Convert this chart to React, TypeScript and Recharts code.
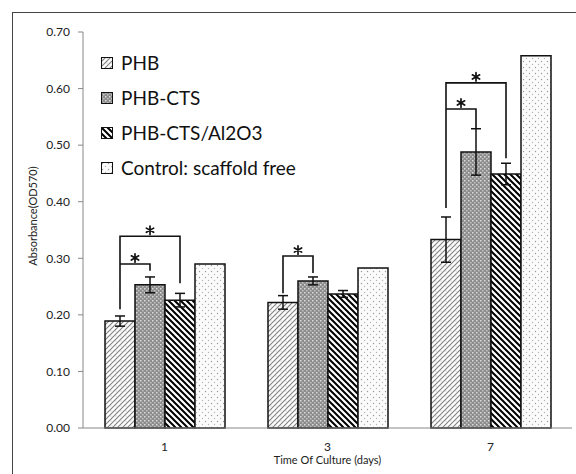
import React from "react";
import { BarChart, Bar, XAxis, YAxis, ErrorBar, LabelList, Legend } from "recharts";

const days = ["1", "3", "7"];
const phb = [0.189, 0.222, 0.333];
const phbErr = [0.009, 0.012, 0.04];
const phbCts = [0.253, 0.26, 0.488];
const phbCtsErr = [0.014, 0.007, 0.041];
const phbCtsAl = [0.226, 0.237, 0.449];
const phbCtsAlErr = [0.012, 0.006, 0.019];
const control = [0.29, 0.283, 0.658];
const yTicks = [0, 0.1, 0.2, 0.3, 0.4, 0.5, 0.6, 0.7];

// significance brackets: from PHB bar to bar number `to` in the same group
const brackets = [
  { day: "1", to: 2, top: 0.339, leftEnd: 0.21, rightEnd: 0.256 },
  { day: "1", to: 1, top: 0.29, leftEnd: 0.29, rightEnd: 0.278 },
  { day: "3", to: 1, top: 0.304, leftEnd: 0.238, rightEnd: 0.274 },
  { day: "7", to: 2, top: 0.61, leftEnd: 0.389, rightEnd: 0.477 },
  { day: "7", to: 1, top: 0.564, leftEnd: 0.564, rightEnd: 0.529 },
];

const series = [
  { key: "phb", name: "PHB", fill: "url(#pPhb)" },
  { key: "phbCts", name: "PHB-CTS", fill: "url(#pCts)" },
  { key: "phbCtsAl", name: "PHB-CTS/Al2O3", fill: "url(#pAl)" },
  { key: "control", name: "Control: scaffold free", fill: "url(#pCtrl)" },
];

const data = days.map((day, i) => ({
  day,
  phb: phb[i],
  phbErr: phbErr[i],
  phbCts: phbCts[i],
  phbCtsErr: phbCtsErr[i],
  phbCtsAl: phbCtsAl[i],
  phbCtsAlErr: phbCtsAlErr[i],
  control: control[i],
}));

const font = "Lato, 'Open Sans', sans-serif";

function Star({ cx, cy }: { cx: number; cy: number }) {
  const r = 4.2;
  const d = [90, 30, -30]
    .map((a) => {
      const dx = r * Math.cos((a * Math.PI) / 180);
      const dy = r * Math.sin((a * Math.PI) / 180);
      return `M${cx - dx},${cy - dy} L${cx + dx},${cy + dy}`;
    })
    .join(" ");
  return <path d={d} stroke="#111" strokeWidth={1.7} strokeLinecap="round" />;
}

function Brackets(props: any) {
  const vb = props.viewBox && props.viewBox.width != null ? props.viewBox : props;
  const { x, y, width, height } = vb;
  const i = days.indexOf(String(props.value));
  if (i < 0 || !height) return null;
  const base = y + height;
  const k = height / phb[i];
  const py = (v: number) => base - v * k;
  const left = x + width / 2;
  return (
    <g>
      {brackets
        .filter((b) => b.day === days[i])
        .map((b, j) => {
          const right = x + width * (b.to + 0.5);
          const top = py(b.top);
          return (
            <g key={j}>
              <polyline
                points={`${left},${py(b.leftEnd)} ${left},${top} ${right},${top} ${right},${py(b.rightEnd)}`}
                fill="none"
                stroke="#111"
                strokeWidth={1.6}
              />
              <Star cx={(left + right) / 2} cy={top - 6} />
            </g>
          );
        })}
    </g>
  );
}

function LegendBox() {
  return (
    <div style={{ fontFamily: font, fontSize: 19, color: "#111" }}>
      {series.map((s) => (
        <div key={s.key} style={{ display: "flex", alignItems: "center", height: 35 }}>
          <svg width={12} height={12} style={{ marginRight: 8 }}>
            <rect x={0.5} y={0.5} width={11} height={11} fill={s.fill} stroke="#111" strokeWidth={1} />
          </svg>
          <span>{s.name}</span>
        </div>
      ))}
    </div>
  );
}

export default function App() {
  return (
    <div
      style={{
        position: "absolute",
        left: 0,
        top: 0,
        width: 576,
        height: 474,
        overflow: "hidden",
        background: "#fff",
      }}
    >
      <div
        style={{
          position: "absolute",
          left: 12,
          top: 12,
          width: 620,
          height: 520,
          border: "1px solid #444",
        }}
      />
      <BarChart
        width={576}
        height={474}
        data={data}
        margin={{ top: 32, right: 4, bottom: 0, left: 23 }}
        barSize={30}
        barGap={0}
        style={{ position: "absolute", left: 0, top: 0 }}
      >
        <defs>
          <pattern id="pPhb" width="5" height="5" patternUnits="userSpaceOnUse">
            <rect width="5" height="5" fill="#fff" />
            <path d="M0,5 L5,0 M-1,1 L1,-1 M4,6 L6,4" stroke="#808080" strokeWidth="1.1" />
            <circle cx="1" cy="1" r="0.5" fill="#aaa" />
          </pattern>
          <pattern id="pCts" width="4" height="4" patternUnits="userSpaceOnUse">
            <rect width="4" height="4" fill="#8c8c8c" />
            <rect x="0" y="0" width="1.5" height="1.5" fill="#dcdcdc" />
            <rect x="2" y="2" width="1.5" height="1.5" fill="#c4c4c4" />
          </pattern>
          <pattern id="pAl" width="6" height="6" patternUnits="userSpaceOnUse">
            <rect width="6" height="6" fill="#fff" />
            <path d="M0,0 L6,6 M-1,5 L1,7 M5,-1 L7,1" stroke="#000" strokeWidth="2" />
          </pattern>
          <pattern id="pCtrl" width="6" height="6" patternUnits="userSpaceOnUse">
            <rect width="6" height="6" fill="#fbfbfb" />
            <circle cx="1.5" cy="1.5" r="0.7" fill="#999" />
            <circle cx="4.5" cy="4.5" r="0.7" fill="#b5b5b5" />
          </pattern>
        </defs>
        <XAxis
          xAxisId="edges"
          type="number"
          domain={[0, 3]}
          ticks={[0, 1, 2, 3]}
          allowDataOverflow
          height={0}
          axisLine={false}
          tick={false}
          tickSize={5}
          tickLine={{ stroke: "#888" }}
        />
        <XAxis
          xAxisId="cat"
          dataKey="day"
          height={46}
          axisLine={{ stroke: "#888" }}
          tickLine={false}
          tickSize={5}
          tickMargin={9}
          tick={{ fontSize: 12, fill: "#222", fontFamily: font }}
          label={{
            content: (p: any) => {
              const vb = p.viewBox;
              return (
                <text
                  x={vb.x + vb.width / 2}
                  y={428 + 36}
                  textAnchor="middle"
                  fontSize={11}
                  fontFamily={font}
                  fill="#222"
                >
                  Time Of Culture (days)
                </text>
              );
            },
          }}
        />
        <YAxis
          width={60}
          domain={[0, 0.7]}
          ticks={yTicks}
          interval={0}
          tickFormatter={(v: number) => v.toFixed(2)}
          axisLine={{ stroke: "#888" }}
          tickLine={{ stroke: "#888" }}
          tickSize={5}
          tickMargin={8}
          tick={{ fontSize: 12, fill: "#222", fontFamily: font }}
          label={{
            content: (p: any) => {
              const vb = p.viewBox;
              const cy = vb.y + vb.height / 2 - 14;
              return (
                <text
                  x={37}
                  y={cy}
                  transform={`rotate(-90 37 ${cy})`}
                  textAnchor="middle"
                  fontSize={11}
                  fontFamily={font}
                  fill="#222"
                >
                  Absorbance(OD570)
                </text>
              );
            },
          }}
        />
        <Legend
          layout="vertical"
          align="center"
          verticalAlign="middle"
          content={() => <LegendBox />}
          wrapperStyle={{ left: 101, top: 45, width: "auto" }}
        />
        <Bar xAxisId="cat" dataKey="phb" name="PHB" fill="url(#pPhb)" stroke="#111" strokeWidth={1.5} isAnimationActive={false}>
          <ErrorBar dataKey="phbErr" width={5} stroke="#111" strokeWidth={1.5} />
          <LabelList dataKey="day" content={Brackets} />
        </Bar>
        <Bar xAxisId="cat" dataKey="phbCts" name="PHB-CTS" fill="url(#pCts)" stroke="#111" strokeWidth={1.5} isAnimationActive={false}>
          <ErrorBar dataKey="phbCtsErr" width={5} stroke="#111" strokeWidth={1.5} />
        </Bar>
        <Bar xAxisId="cat" dataKey="phbCtsAl" name="PHB-CTS/Al2O3" fill="url(#pAl)" stroke="#111" strokeWidth={1.5} isAnimationActive={false}>
          <ErrorBar dataKey="phbCtsAlErr" width={5} stroke="#111" strokeWidth={1.5} />
        </Bar>
        <Bar xAxisId="cat" dataKey="control" name="Control: scaffold free" fill="url(#pCtrl)" stroke="#111" strokeWidth={1.5} isAnimationActive={false} />
      </BarChart>
    </div>
  );
}
